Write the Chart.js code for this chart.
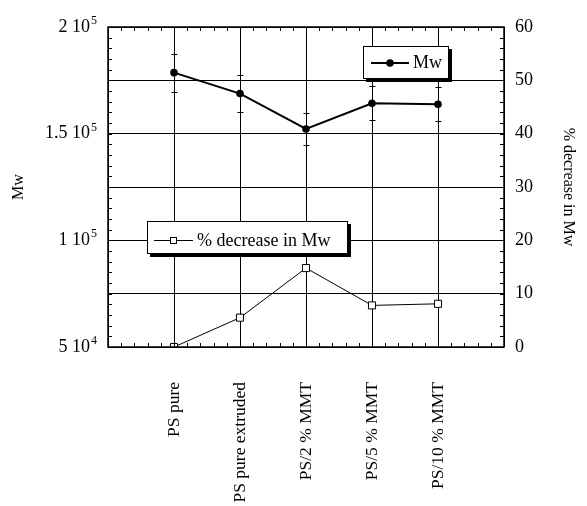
<!DOCTYPE html>
<html>
<head>
<meta charset="utf-8">
<script src="https://cdn.jsdelivr.net/npm/chart.js@4"></script>
<style>
  html, body { margin: 0; padding: 0; background: #fff; }
  #wrap { position: relative; width: 587px; height: 506px; }
</style>
</head>
<body>
<div id="wrap"><canvas id="c"></canvas></div>
<script>
// Werte
var CATEGORIES = ['PS pure', 'PS pure extruded', 'PS/2 % MMT', 'PS/5 % MMT', 'PS/10 % MMT'];
var MW = [178600, 168800, 152200, 164200, 163800];
var MW_ERR = [8900, 8500, 7700, 8000, 8000];
var DECREASE = [0, 5.5, 14.8, 7.8, 8.1];
var MW_TICKS = [50000, 100000, 150000, 200000];
var MW_TICK_BASE = ['5 10', '1 10', '1.5 10', '2 10'];
var MW_TICK_EXP = ['4', '5', '5', '5'];

var SERIF = '"Liberation Serif", "Times New Roman", serif';

// leere Randkategorien, damit die Punkte bei 1..5 von 0..6 liegen
function pad(arr) { return [null].concat(arr).concat([null]); }
var LABELS = [''].concat(CATEGORIES).concat(['']);

function legendBox(ctx, x, y, w, h) {
  ctx.fillStyle = '#000';
  ctx.fillRect(x + 3, y + 3, w, h);
  ctx.fillStyle = '#fff';
  ctx.fillRect(x, y, w, h);
  ctx.strokeStyle = '#000';
  ctx.lineWidth = 1;
  ctx.strokeRect(x + 0.5, y + 0.5, w - 1, h - 1);
  ctx.fillStyle = '#000';
}

var decor = {
  id: 'decor',
  afterDatasetsDraw: function (chart) {
    var ctx = chart.ctx, a = chart.chartArea;
    var sx = chart.scales.x, sy = chart.scales.y, sy2 = chart.scales.y2;
    ctx.save();

    // Fehlerbalken Mw
    ctx.strokeStyle = '#000'; ctx.lineWidth = 1;
    MW.forEach(function (v, i) {
      var px = Math.round(sx.getPixelForValue(i + 1)) + 0.5;
      var yt = sy.getPixelForValue(v + MW_ERR[i]), yb = sy.getPixelForValue(v - MW_ERR[i]);
      ctx.beginPath();
      ctx.moveTo(px, yt); ctx.lineTo(px, yb);
      ctx.moveTo(px - 3, Math.round(yt) + 0.5); ctx.lineTo(px + 3, Math.round(yt) + 0.5);
      ctx.moveTo(px - 3, Math.round(yb) + 0.5); ctx.lineTo(px + 3, Math.round(yb) + 0.5);
      ctx.stroke();
    });

    // Rahmen
    ctx.lineWidth = 1.5;
    ctx.strokeRect(a.left, a.top, a.right - a.left, a.bottom - a.top);

    // kleine Ticks nach innen
    ctx.lineWidth = 1;
    ctx.beginPath();
    var v, p;
    for (v = 50000; v <= 200000; v += 5000) {
      p = Math.round(sy.getPixelForValue(v)) + 0.5;
      ctx.moveTo(a.left, p); ctx.lineTo(a.left + 4, p);
    }
    for (v = 0; v <= 60; v += 2) {
      p = Math.round(sy2.getPixelForValue(v)) + 0.5;
      ctx.moveTo(a.right, p); ctx.lineTo(a.right - 4, p);
    }
    for (v = 0; v <= 30; v++) {
      p = Math.round(sx.getPixelForValue(v / 5)) + 0.5;
      ctx.moveTo(p, a.top); ctx.lineTo(p, a.top + 4);
      ctx.moveTo(p, a.bottom); ctx.lineTo(p, a.bottom - 4);
    }
    ctx.stroke();

    // linke Achsenbeschriftung mit Exponent
    ctx.fillStyle = '#000';
    ctx.textBaseline = 'middle';
    MW_TICKS.forEach(function (t, i) {
      var py = sy.getPixelForValue(t);
      ctx.textAlign = 'right';
      ctx.font = '18px ' + SERIF;
      ctx.fillText(MW_TICK_BASE[i], a.left - 18, py);
      ctx.font = '12px ' + SERIF;
      ctx.fillText(MW_TICK_EXP[i], a.left - 11, py - 6);
    });

    // Achsentitel
    ctx.font = '16px ' + SERIF;
    ctx.textAlign = 'center';
    var cy = (a.top + a.bottom) / 2;
    ctx.save();
    ctx.translate(19, cy); ctx.rotate(-Math.PI / 2);
    ctx.fillText('Mw', 0, 0);
    ctx.restore();
    ctx.save();
    ctx.translate(568, cy); ctx.rotate(Math.PI / 2);
    ctx.fillText('% decrease in Mw', 0, 0);
    ctx.restore();

    // Legende Mw
    legendBox(ctx, 363, 46, 86, 33);
    ctx.strokeStyle = '#000'; ctx.lineWidth = 2;
    ctx.beginPath(); ctx.moveTo(371, 63); ctx.lineTo(409, 63); ctx.stroke();
    ctx.beginPath(); ctx.arc(390, 63, 3.8, 0, Math.PI * 2); ctx.fill();
    ctx.font = '18px ' + SERIF; ctx.textAlign = 'left';
    ctx.fillText('Mw', 413, 63);

    // Legende % decrease
    legendBox(ctx, 147, 221, 201, 33);
    ctx.lineWidth = 1;
    ctx.beginPath(); ctx.moveTo(154, 240.5); ctx.lineTo(193, 240.5); ctx.stroke();
    ctx.fillStyle = '#fff'; ctx.fillRect(170, 237, 7, 7);
    ctx.strokeRect(170.5, 237.5, 6, 6);
    ctx.fillStyle = '#000';
    ctx.fillText('% decrease in Mw', 197, 241);

    ctx.restore();
  }
};

new Chart(document.getElementById('c').getContext('2d'), {
  type: 'line',
  data: {
    labels: LABELS,
    datasets: [
      { label: 'Mw', data: pad(MW), yAxisID: 'y', borderColor: '#000', borderWidth: 2,
        pointStyle: 'circle', pointRadius: 3.8, pointBackgroundColor: '#000', pointBorderWidth: 0, tension: 0 },
      { label: '% decrease in Mw', data: pad(DECREASE), yAxisID: 'y2', borderColor: '#000', borderWidth: 1,
        pointStyle: 'rect', pointRadius: 5, pointBackgroundColor: '#fff', pointBorderColor: '#000', pointBorderWidth: 1, tension: 0 }
    ]
  },
  options: {
    responsive: true, maintainAspectRatio: false, animation: false,
    layout: { padding: { top: 27, left: 0, right: 0, bottom: 0 } },
    plugins: { legend: { display: false }, tooltip: { enabled: false } },
    scales: {
      x: {
        type: 'category', offset: false,
        grid: { color: '#000', lineWidth: 1, drawTicks: false },
        border: { display: false },
        ticks: { autoSkip: false, minRotation: 90, maxRotation: 90, padding: 35, color: '#000',
          font: { family: SERIF, size: 17.5 } },
        afterFit: function (s) { s.height = 159; }
      },
      y: {
        position: 'left', min: 50000, max: 200000,
        grid: { display: false }, border: { display: false },
        ticks: { display: false, stepSize: 50000 },
        afterFit: function (s) { s.width = 108; }
      },
      y2: {
        position: 'right', min: 0, max: 60,
        grid: { color: '#000', lineWidth: 1, drawTicks: false },
        border: { display: false },
        ticks: { stepSize: 10, padding: 11, color: '#000', font: { family: SERIF, size: 18 } },
        afterFit: function (s) { s.width = 83; }
      }
    }
  },
  plugins: [decor]
});
</script>
</body>
</html>
